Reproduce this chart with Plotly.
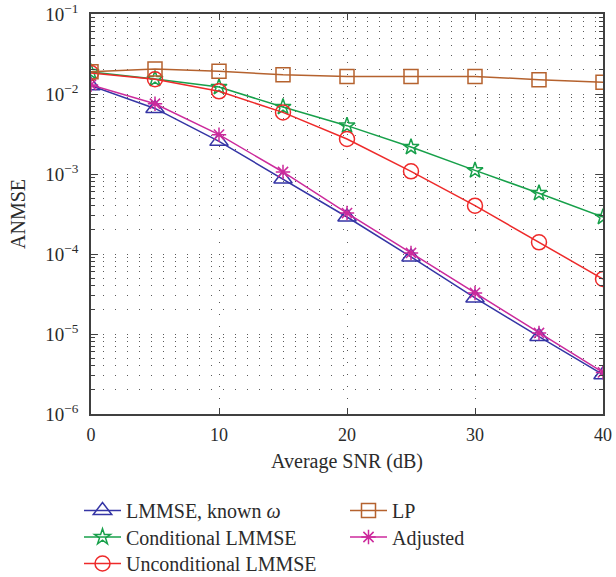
import plotly.graph_objects as go

# Average SNR in dB
snr = [0, 5, 10, 15, 20, 25, 30, 35, 40]

# ANMSE for each estimator
lmmse_known = [0.0127, 0.0066, 0.00256, 0.000866, 0.00029, 9.2e-05, 2.82e-05, 9.3e-06, 3.1e-06]
cond_lmmse = [0.0188, 0.0154, 0.0122, 0.00688, 0.00402, 0.00217, 0.00111, 0.000576, 0.00029]
uncond_lmmse = [0.0183, 0.0153, 0.0108, 0.00589, 0.00274, 0.00108, 0.000402, 0.00014, 4.87e-05]
lp = [0.0190, 0.0205, 0.0192, 0.0174, 0.0166, 0.0166, 0.0166, 0.0151, 0.0140]
adjusted = [0.0130, 0.00756, 0.0031, 0.00106, 0.000325, 0.000103, 3.26e-05, 1.03e-05, 3.31e-06]

y_tickvals = [1e-6, 1e-5, 1e-4, 1e-3, 1e-2, 1e-1]
y_ticktext = ["10<sup>−6</sup>", "10<sup>−5</sup>", "10<sup>−4</sup>",
              "10<sup>−3</sup>", "10<sup>−2</sup>", "10<sup>−1</sup>"]
x_tickvals = [0, 10, 20, 30, 40]

W, H = 616, 577
ML, MR, MT, MB = 91, 13, 14, 163
FONT = "Liberation Serif, Times New Roman, serif"
INK = "#2b2b2b"
DOTS = "1px,11px"
GRID = "#5a5a5a"

# one single-entry legend per series so the two-column key sits on a fixed grid
# (legend id, left edge px, row centre px)
slots = {
    "legend":  (79, 510.5),
    "legend2": (79, 537.0),
    "legend3": (79, 563.5),
    "legend4": (345, 510.5),
    "legend5": (345, 537.0),
}

series = [
    # name, values, colour, symbol, size, legend id
    ("LMMSE, known <i>ω</i>", lmmse_known, "#3535a5", "triangle-up-open", 16, "legend"),
    ("Conditional LMMSE", cond_lmmse, "#17a04a", "star-open", 12, "legend2"),
    ("Unconditional LMMSE", uncond_lmmse, "#ee2a2a", "circle-open", 15, "legend3"),
    ("LP", lp, "#b5622e", "square-open", 14, "legend4"),
    ("Adjusted", adjusted, "#cc2a9c", "asterisk-open", 12, "legend5"),
]

fig = go.Figure()
for name, vals, color, sym, size, leg in series:
    fig.add_trace(go.Scatter(
        x=snr, y=vals, name=name, mode="lines+markers",
        line=dict(color=color, width=1.5),
        marker=dict(symbol=sym, size=size, color=color,
                    line=dict(color=color, width=1.5)),
        legend=leg,
    ))

legend_layouts = {}
for leg, (left, yc) in slots.items():
    legend_layouts[leg] = dict(
        xref="container", yref="container",
        x=left / W, xanchor="left", y=1 - yc / H, yanchor="middle",
        orientation="v", itemwidth=37,
        font=dict(family=FONT, size=20, color=INK),
        bgcolor="rgba(0,0,0,0)", borderwidth=0,
    )

fig.update_layout(
    width=W, height=H,
    margin=dict(l=ML, r=MR, t=MT, b=MB, autoexpand=False),
    paper_bgcolor="white", plot_bgcolor="white",
    font=dict(family=FONT, size=18, color=INK),
    showlegend=True,
    **legend_layouts,
)

# y-axis title, rotated, centred on the plot height
fig.add_annotation(
    text="ANMSE", textangle=-90, showarrow=False,
    xref="paper", yref="paper", x=(18 - ML) / (W - ML - MR), y=0.5,
    xanchor="center", yanchor="middle",
    font=dict(family=FONT, size=20, color=INK),
)

fig.update_xaxes(
    range=[0, 40], tickvals=x_tickvals,
    ticks="inside", ticklen=6, tickcolor="#404040", tickwidth=1,
    ticklabelstandoff=4,
    showline=True, linecolor="#404040", linewidth=1.5, mirror="allticks",
    showgrid=True, gridcolor=GRID, gridwidth=1, griddash=DOTS,
    zeroline=False,
    title=dict(text="Average SNR (dB)", standoff=10, font=dict(size=20)),
    tickfont=dict(size=18),
)

fig.update_yaxes(
    type="log", range=[-6, -1], tickvals=y_tickvals, ticktext=y_ticktext,
    ticks="inside", ticklen=7, tickcolor="#404040", tickwidth=1,
    ticklabelstandoff=7,
    showline=True, linecolor="#404040", linewidth=1.5, mirror="allticks",
    showgrid=True, gridcolor=GRID, gridwidth=1, griddash=DOTS,
    zeroline=False,
    minor=dict(dtick="D1", ticks="inside", ticklen=4, tickcolor="#404040",
               showgrid=True, gridcolor=GRID, gridwidth=1, griddash=DOTS),
    tickfont=dict(size=19),
)

fig.write_html("out.html")
